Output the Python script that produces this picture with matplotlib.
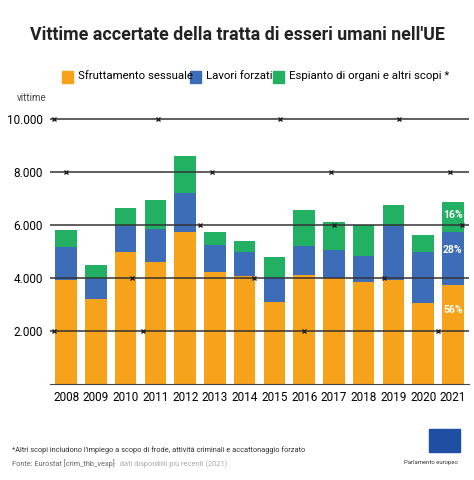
import matplotlib.pyplot as plt
import numpy as np

years = [str(y) for y in range(2008, 2022)]
sessuale = [3920, 3200, 4980, 4600, 5740, 4230, 4080, 3090, 4110, 4000, 3850, 3920, 3060, 3740]
forzati = [1250, 760, 980, 1250, 1460, 1020, 900, 950, 1090, 1060, 980, 2040, 1920, 2000]
organi = [640, 530, 680, 1090, 1400, 490, 420, 750, 1370, 1050, 1170, 790, 640, 1130]
pct_labels = ["56%", "28%", "16%"]

c_or, c_bl, c_gr = "#f7a21b", "#3d6cb9", "#22b163"
F = ["Roboto", "DejaVu Sans"]

fig = plt.figure(figsize=(4.74, 4.8), dpi=100)
ax = fig.add_axes([0.105, 0.2, 0.885, 0.569])
x = np.arange(len(years))
w = 0.72
ax.bar(x, sessuale, w, color=c_or, zorder=2)
ax.bar(x, forzati, w, bottom=sessuale, color=c_bl, zorder=2)
b2 = np.array(sessuale) + np.array(forzati)
ax.bar(x, organi, w, bottom=b2, color=c_gr, zorder=2)

ax.set_xlim(-0.55, len(years) - 0.45)
ax.set_ylim(0, 10300)
yt = [2000, 4000, 6000, 8000, 10000]
ax.set_yticks(yt)
ax.set_yticklabels(["2.000", "4.000", "6.000", "8.000", "10.000"], fontsize=8.5, family=F)
ax.tick_params(length=0, pad=5)
barbs = {2000: [-0.4, 2.6, 8.0, 12.5], 4000: [2.2, 6.3, 10.7], 6000: [4.5, 9.0, 13.3],
         8000: [0.0, 4.9, 8.9, 12.9], 10000: [-0.4, 3.1, 7.2, 11.2]}
for y in yt:
    ax.axhline(y, color="#333333", lw=1.1, zorder=3)
    xs = barbs[y]
    ax.plot(xs, [y] * len(xs), marker="x", ls="none", color="#222222", ms=3.5, mew=1.0, zorder=4)
ax.set_xticks(x)
ax.set_xticklabels(years, fontsize=8.5, family=F)
for s in ["top", "right", "left"]:
    ax.spines[s].set_visible(False)
ax.spines["bottom"].set_color("#444444")

i = len(years) - 1
ax.text(i, sessuale[i] * 0.72, pct_labels[0], ha="center", color="white", fontsize=7.5, fontweight="bold", family=F, zorder=5)
ax.text(i, sessuale[i] + forzati[i] * 0.6, pct_labels[1], ha="center", color="white", fontsize=7.5, fontweight="bold", family=F, zorder=5)
ax.text(i, b2[i] + organi[i] * 0.45, pct_labels[2], ha="center", color="white", fontsize=7.5, fontweight="bold", family=F, zorder=5)

fig.text(0.5, 0.917, "Vittime accertate della tratta di esseri umani nell'UE", ha="center",
         fontsize=12.8, fontweight="bold", family=F, color="#222222")
lx = [0.13, 0.40, 0.575]
labs = ["Sfruttamento sessuale", "Lavori forzati", "Espianto di organi e altri scopi *"]
for xx, lab, c in zip(lx, labs, [c_or, c_bl, c_gr]):
    fig.patches.append(plt.Rectangle((xx, 0.828), 0.024, 0.025, color=c, transform=fig.transFigure))
    fig.text(xx + 0.034, 0.841, lab, va="center", fontsize=8.2, family=F)
fig.text(0.035, 0.79, "vittime", fontsize=7, color="#444444", family=F)
fig.text(0.025, 0.058, "*Altri scopi includono l'impiego a scopo di frode, attività criminali e accattonaggio forzato",
         fontsize=5.3, color="#333333", family=F)
fig.text(0.025, 0.03, "Fonte: Eurostat [crim_thb_vexp]", fontsize=5.3, color="#666666", family=F)
fig.text(0.24, 0.03, "-  dati disponibili più recenti (2021)", fontsize=5.3, color="#aaaaaa", family=F)
fig.patches.append(plt.Rectangle((0.905, 0.058), 0.065, 0.048, color="#1f4fa3", transform=fig.transFigure))
fig.text(0.91, 0.033, "Parlamento europeo", fontsize=4.3, ha="center", color="#333333", family=F)
fig.savefig("out.png", dpi=100)
